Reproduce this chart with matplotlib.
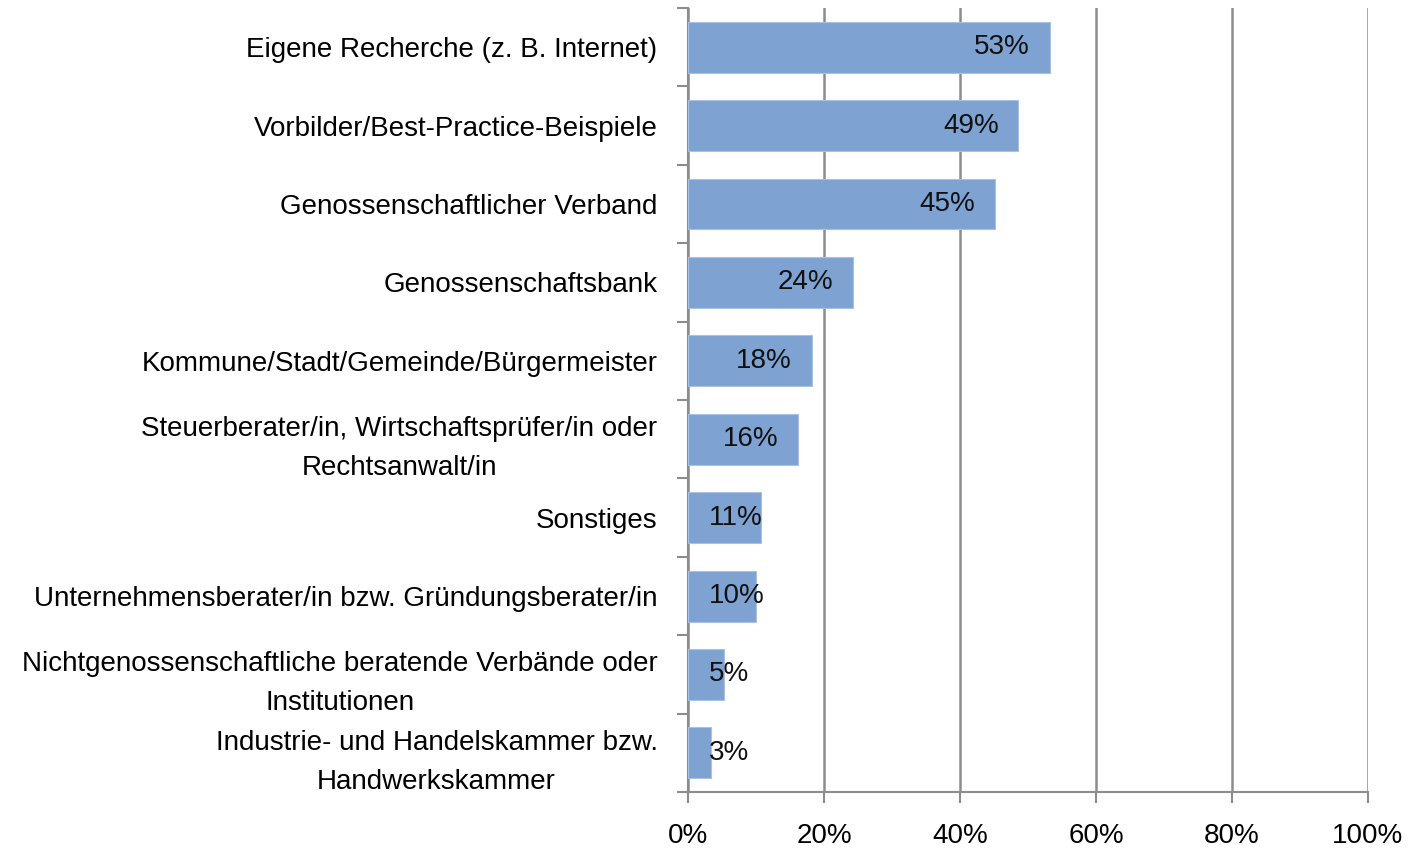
import numpy as np
import matplotlib.pyplot as plt
from matplotlib.ticker import FixedLocator

plt.rcParams['font.family'] = ['Liberation Sans', 'DejaVu Sans']

categories = [
    "Eigene Recherche (z. B. Internet)",
    "Vorbilder/Best-Practice-Beispiele",
    "Genossenschaftlicher Verband",
    "Genossenschaftsbank",
    "Kommune/Stadt/Gemeinde/Bürgermeister",
    "Steuerberater/in, Wirtschaftsprüfer/in oder\nRechtsanwalt/in",
    "Sonstiges",
    "Unternehmensberater/in bzw. Gründungsberater/in",
    "Nichtgenossenschaftliche beratende Verbände oder\nInstitutionen",
    "Industrie- und Handelskammer bzw.\nHandwerkskammer",
]
values = [53.2, 48.6, 45.1, 24.3, 18.2, 16.2, 10.7, 10.0, 5.3, 3.4]
xticks = [0, 20, 40, 60, 80, 100]

grey = '#8c8c8c'
bar_color = '#7ea3d2'
fs = 20

fig = plt.figure(figsize=(14.12, 8.5), dpi=100)
ax = fig.add_axes([0.4873, 0.0682, 0.4815, 0.9224])

y = np.arange(len(categories))
ax.barh(y, values, height=0.65, color=bar_color, edgecolor='#a9c2e3', linewidth=0.8, zorder=3)

# value labels: inside end, pushed right for short bars
for yi, v in zip(y, values):
    if v < 14:
        ax.text(3.0, yi, f"{round(v)}%", ha='left', va='center', fontsize=fs, color='#111111', zorder=4)
    else:
        ax.text(v - 2.9, yi, f"{round(v)}%", ha='right', va='center', fontsize=fs, color='#111111', zorder=4)

ax.set_xlim(0, 100)
ax.set_ylim(len(categories) - 0.5, -0.5)
ax.set_xticks(xticks)
ax.set_xticklabels([f"{t}%" for t in xticks], fontsize=fs)
ax.set_yticks(y)
ax.set_yticklabels(categories, fontsize=fs, multialignment='center', linespacing=1.65)
ax.yaxis.set_minor_locator(FixedLocator(np.arange(-0.5, len(categories), 1.0)))
ax.tick_params(axis='y', which='major', length=0, pad=22)
ax.tick_params(axis='y', which='minor', length=8, width=1.5, color=grey, direction='out')
ax.tick_params(axis='x', length=8, width=1.5, color=grey, pad=14)

ax.grid(axis='x', color=grey, linewidth=1.8, zorder=0)
for s in ['top', 'right']:
    ax.spines[s].set_visible(False)
for s in ['left', 'bottom']:
    ax.spines[s].set_color(grey)
    ax.spines[s].set_linewidth(1.5)

fig.savefig('out.png', dpi=100)
